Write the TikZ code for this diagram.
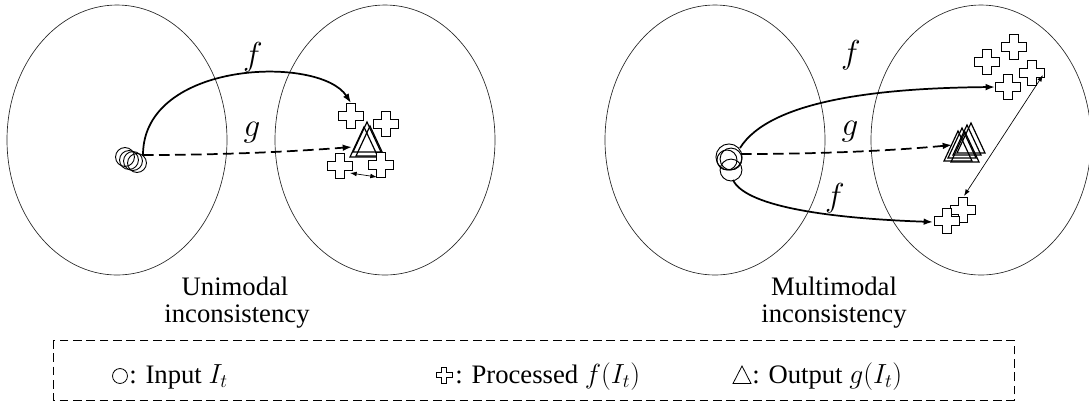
\documentclass[tikz,border=0pt]{standalone}
\usepackage{fontspec}
\setmainfont{Liberation Serif}
\usetikzlibrary{arrows.meta}
\begin{document}
\begin{tikzpicture}[x=0.75pt,y=-0.75pt,
  ell/.style={draw=black!85,line width=0.5pt},
  fline/.style={line width=1.3pt,-{Latex[length=7pt,width=5pt]}},
  gline/.style={line width=1.3pt,dash pattern=on 8pt off 4pt,-{Latex[length=7pt,width=5pt]}},
  thinarr/.style={line width=0.5pt,{Latex[length=5pt,width=3.5pt]}-{Latex[length=5pt,width=3.5pt]}},
  inp/.style={draw,line width=0.7pt},
  lbl/.style={font=\fontsize{25}{28}\selectfont,inner sep=0pt},
  capt/.style={font=\fontsize{20}{22}\selectfont,inner sep=0pt,anchor=base},
  legtxt/.style={font=\fontsize{20}{22}\selectfont,inner sep=0pt,anchor=base west},
  legbox/.style={draw,line width=0.6pt,dash pattern=on 6.5pt off 3.5pt},
  pics/plus/.style={code={\draw[line width=1.2pt,fill=white,line join=miter]
     (-4.5,-12.5) -- (4.5,-12.5) -- (4.5,-4.5) -- (12.5,-4.5) -- (12.5,4.5) -- (4.5,4.5)
     -- (4.5,12.5) -- (-4.5,12.5) -- (-4.5,4.5) -- (-12.5,4.5) -- (-12.5,-4.5) -- (-4.5,-4.5) -- cycle;}},
  pics/legplus/.style={code={\draw[line width=0.6pt,line join=miter]
     (-2.7,-8) -- (2.7,-8) -- (2.7,-2.7) -- (8,-2.7) -- (8,2.7) -- (2.7,2.7)
     -- (2.7,8) -- (-2.7,8) -- (-2.7,2.7) -- (-8,2.7) -- (-8,-2.7) -- (-2.7,-2.7) -- cycle;}},
  pics/tri/.style={code={\draw[line width=0.9pt,line join=miter] (0,-15) -- (14,15) -- (-14,15) -- cycle;}},
  pics/legtri/.style={code={\draw[line width=0.6pt,line join=miter] (0,-9) -- (9,8.5) -- (-9,8.5) -- cycle;}},
]
\useasboundingbox (0,0) rectangle (1089,405);

% ---------- ellipses ----------
\draw[ell] (117,140) ellipse [x radius=82.5pt, y radius=101.25pt];
\draw[ell] (385,140) ellipse [x radius=82.5pt, y radius=101.25pt];
\draw[ell] (715,140) ellipse [x radius=82.5pt, y radius=101.25pt];
\draw[ell] (981,140) ellipse [x radius=82.5pt, y radius=101.25pt];

% ---------- left (unimodal) ----------
\foreach \p in {(125,157),(129,160),(133,161),(137,163)}
  \draw[inp] \p circle [radius=7.1pt];
\coordinate (inL) at (143,155);

\pic at (351,116) {plus};
\pic at (386,124) {plus};
\pic at (367,137) {tri};
\pic at (370,141) {tri};
\pic at (364,142) {tri};
\pic at (340,166) {plus};
\pic at (381,165) {plus};
\coordinate (lp1) at (351,103);
\coordinate (ltri) at (352,147);
\coordinate (lp3) at (350,173);
\coordinate (lp4) at (377,177);

\draw[fline] (inL) .. controls (143,60) and (320,55) .. (lp1);
\draw[gline] (inL) .. controls (230,155) and (300,151) .. (ltri);
\draw[thinarr] (lp3) -- (lp4);

\node[lbl] (fL) at (253,57) {$f$};
\node[lbl] (gL) at (252,133) {$g$};

\node[capt] (uni1) at (235,295) {Unimodal};
\node[capt] (uni2) at (237,322) {inconsistency};

% ---------- right (multimodal) ----------
\foreach \p/\r in {(729,157)/9.8pt,(731,159)/8.2pt,(727,160)/7.5pt,(731,170)/8.2pt}
  \draw[inp] \p circle [radius=\r];
\coordinate (inR1) at (740,148);
\coordinate (inR2) at (741,154);
\coordinate (inR3) at (733,180);

\pic at (987,62) {plus};
\pic at (1014,47) {plus};
\pic at (1032,73) {plus};
\pic at (1008,87) {plus};
\pic at (963,210) {plus};
\pic at (947,221) {plus};
\pic at (958,146) {tri};
\pic at (962,143) {tri};
\pic at (967,140) {tri};
\pic at (971,138) {tri};
\pic at (965,147) {tri};
\coordinate (rC) at (995,87);
\coordinate (rtri) at (952,145);
\coordinate (rE) at (933,222);
\coordinate (rD) at (1043,75);
\coordinate (rF) at (964,196);

\draw[fline] (inR1) .. controls (770,100) and (880,88) .. (rC);
\draw[gline] (inR2) .. controls (830,154) and (900,150) .. (rtri);
\draw[fline] (inR3) .. controls (745,205) and (820,218) .. (rE);
\draw[thinarr] (rD) -- (rF);

\node[lbl] (fR1) at (851,55) {$f$};
\node[lbl] (gR) at (850,132) {$g$};
\node[lbl] (fR2) at (835,198) {$f$};

\node[capt] (mul1) at (834,295) {Multimodal};
\node[capt] (mul2) at (834,322) {inconsistency};

% ---------- legend ----------
\draw[legbox] (53,340) rectangle (1014,400);
\draw[line width=0.6pt] (120,376) circle [radius=5.6pt];
\node[legtxt] (lg1) at (129,383) {: Input $I_t$};
\pic at (444,375) {legplus};
\node[legtxt] (lg2) at (455,383) {: Processed $f(I_t)$};
\pic at (742,375) {legtri};
\node[legtxt] (lg3) at (752,383) {: Output $g(I_t)$};
\end{tikzpicture}
\end{document}
